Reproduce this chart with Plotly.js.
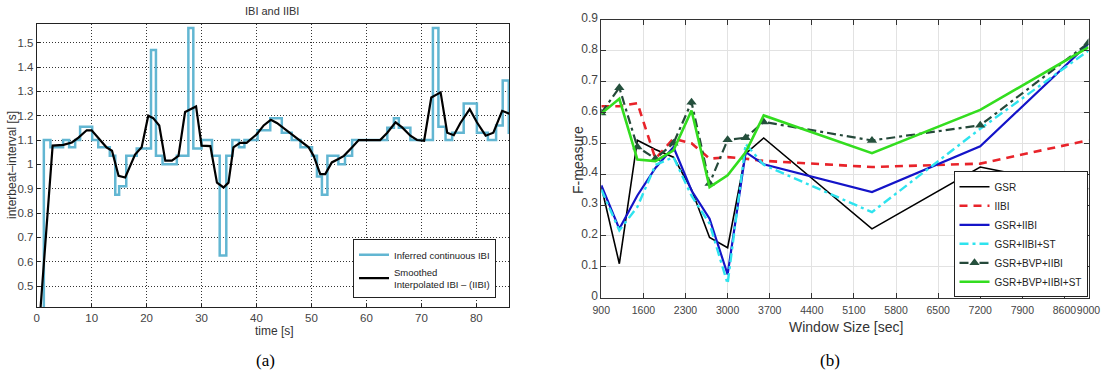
<!DOCTYPE html>
<html>
<head>
<meta charset="utf-8">
<script src="https://cdn.plot.ly/plotly-3.0.1.min.js"></script>
<style>html,body{margin:0;padding:0;background:#fff;}#chart{width:1104px;height:382px;}</style>
</head>
<body>
<div id="chart"></div>
<script>
// ---------- Panel (a): IBI and IIBI ----------
const ibiTime = [0, 1.3, 2.5, 4.8, 5.9, 7.0, 7.9, 10.1, 11.2, 13.3, 14.3, 15.0, 16.3, 18.2, 20.8, 21.7, 22.9, 25.5, 27.6, 28.5, 30.0, 31.9, 33.3, 34.5, 35.6, 36.8, 37.8, 40.2, 42.5, 44.6, 46.4, 48.0, 50.1, 51.0, 51.9, 52.9, 54.9, 56.1, 57.4, 63.8, 65.0, 65.9, 68.0, 72.1, 73.1, 74.4, 75.6, 77.7, 80.1, 82.1, 83.6, 84.8, 85.9, 86];
const ibiValue = [0.3, 1.10, 1.07, 1.10, 1.07, 1.10, 1.155, 1.10, 1.07, 1.035, 0.875, 0.91, 1.035, 1.065, 1.47, 1.035, 1.0, 1.035, 1.56, 1.065, 1.10, 1.035, 0.625, 1.035, 1.10, 1.07, 1.10, 1.14, 1.19, 1.13, 1.10, 1.07, 1.035, 0.95, 0.875, 1.035, 1.0, 1.035, 1.10, 1.15, 1.19, 1.15, 1.10, 1.56, 1.155, 1.10, 1.13, 1.25, 1.13, 1.10, 1.16, 1.345, 1.13, 1.13];

const iibiTime = [0.6, 2.9, 4.85, 6.4, 7.6, 9.1, 10.0, 11.2, 12.7, 13.7, 14.9, 16.1, 17.9, 19.1, 20.3, 21.2, 22.3, 23.4, 24.6, 25.8, 27.0, 29.0, 30.0, 31.6, 32.8, 34.0, 34.9, 35.8, 37.0, 38.2, 40.1, 41.3, 42.6, 43.7, 45.2, 46.8, 48.3, 49.5, 50.4, 51.6, 52.5, 53.7, 54.9, 55.9, 57.4, 58.6, 62.5, 63.8, 65.3, 66.5, 68.0, 69.2, 70.5, 71.8, 73.5, 74.7, 75.9, 77.1, 78.8, 80.1, 81.7, 83.1, 84.7, 86.1];
const iibiValue = [0.38, 1.077, 1.08, 1.09, 1.11, 1.14, 1.14, 1.11, 1.07, 1.056, 0.953, 0.946, 1.04, 1.07, 1.20, 1.19, 1.16, 1.015, 1.015, 1.035, 1.215, 1.238, 1.077, 1.075, 0.925, 0.905, 0.925, 1.07, 1.088, 1.088, 1.125, 1.16, 1.183, 1.17, 1.145, 1.118, 1.09, 1.07, 1.035, 0.96, 0.96, 1.008, 1.022, 1.035, 1.07, 1.10, 1.10, 1.13, 1.173, 1.152, 1.118, 1.10, 1.097, 1.275, 1.296, 1.13, 1.12, 1.17, 1.227, 1.173, 1.118, 1.13, 1.22, 1.207];

const ibiTicksY = [0.5, 0.6, 0.7, 0.8, 0.9, 1, 1.1, 1.2, 1.3, 1.4, 1.5];
const timeTicks = [0, 10, 20, 30, 40, 50, 60, 70, 80];

// ---------- Panel (b): F-measure vs window size ----------
const windowSize = [900, 1200, 1500, 1800, 2100, 2400, 2700, 3000, 3300, 3600, 5400, 7200, 9000];
const fGSR        = [0.36, 0.11, 0.51, 0.48, 0.455, 0.35, 0.195, 0.162, 0.466, 0.517, 0.223, 0.423, 0.353];
const fIIBI       = [0.62, 0.62, 0.63, 0.45, 0.515, 0.50, 0.45, 0.455, 0.45, 0.443, 0.423, 0.434, 0.51];
const fGSR_IIBI   = [0.364, 0.223, 0.331, 0.42, 0.488, 0.347, 0.256, 0.075, 0.471, 0.432, 0.342, 0.49, 0.822];
const fGSR_IIBI_ST = [0.35, 0.218, 0.294, 0.43, 0.455, 0.33, 0.24, 0.045, 0.498, 0.43, 0.277, 0.547, 0.80];
const fGSR_BVP_IIBI = [0.598, 0.68, 0.488, 0.45, 0.50, 0.633, 0.37, 0.511, 0.518, 0.569, 0.509, 0.558, 0.825];
const fGSR_BVP_IIBI_ST = [0.596, 0.644, 0.447, 0.442, 0.477, 0.606, 0.358, 0.396, 0.471, 0.59, 0.468, 0.608, 0.811];
const windowTicks = [900, 1600, 2300, 3000, 3700, 4400, 5100, 5800, 6500, 7200, 7900, 8600, 9000];
const fTicks = [0, 0.1, 0.2, 0.3, 0.4, 0.5, 0.6, 0.7, 0.8, 0.9];

const W = 1104, H = 382;
const px = v => v / W, py = v => 1 - v / H;
const narrow = '"Liberation Sans Narrow", "Arial Narrow", "Liberation Sans", Arial, sans-serif';
const sans = '"Liberation Sans", Arial, Helvetica, sans-serif';

const traces = [
  {x: ibiTime, y: ibiValue, xaxis: 'x', yaxis: 'y', mode: 'lines', line: {shape: 'hv', color: '#62b6d2', width: 2.5},
   name: 'Inferred continuous IBI', legend: 'legend'},
  {x: iibiTime, y: iibiValue, xaxis: 'x', yaxis: 'y', mode: 'lines', line: {color: '#000', width: 2.2},
   name: 'Smoothed<br>Interpolated IBI \u2013 (IIBI)', legend: 'legend'},

  {x: windowSize, y: fGSR, xaxis: 'x2', yaxis: 'y2', mode: 'lines', line: {color: '#000', width: 1.6}, name: 'GSR', legend: 'legend2'},
  {x: windowSize, y: fIIBI, xaxis: 'x2', yaxis: 'y2', mode: 'lines', line: {color: '#e8232a', width: 2.6, dash: '8px,6px'}, name: 'IIBI', legend: 'legend2'},
  {x: windowSize, y: fGSR_IIBI, xaxis: 'x2', yaxis: 'y2', mode: 'lines', line: {color: '#1414c8', width: 2.2}, name: 'GSR+IIBI', legend: 'legend2'},
  {x: windowSize, y: fGSR_IIBI_ST, xaxis: 'x2', yaxis: 'y2', mode: 'lines', line: {color: '#2ee3ee', width: 2.4, dash: '9px,4px,3px,4px'}, name: 'GSR+IIBI+ST', legend: 'legend2'},
  {x: windowSize, y: fGSR_BVP_IIBI, xaxis: 'x2', yaxis: 'y2', mode: 'lines+markers', line: {color: '#25493a', width: 2.2, dash: '9px,4px,3px,4px'},
   marker: {symbol: 'triangle-up', size: 9, color: '#25503d'}, name: 'GSR+BVP+IIBI', legend: 'legend2'},
  {x: windowSize, y: fGSR_BVP_IIBI_ST, xaxis: 'x2', yaxis: 'y2', mode: 'lines', line: {color: '#33dd1f', width: 2.6}, name: 'GSR+BVP+IIBI+ST', legend: 'legend2'}
];

const ann = (text, x, y, font, extra) => Object.assign({text, x: px(x), y: py(y), xref: 'paper', yref: 'paper', showarrow: false,
  xanchor: 'center', yanchor: 'middle', font}, extra || {});

const layout = {
  width: W, height: H,
  margin: {l: 0, r: 0, t: 0, b: 0},
  paper_bgcolor: '#fff', plot_bgcolor: '#fff',
  font: {family: narrow, size: 11, color: '#333'},
  xaxis: {domain: [px(36.7), px(509.3)], range: [0, 86], tickvals: timeTicks, tickangle: 0, showgrid: true, gridcolor: '#333', griddash: '1px,2px', gridwidth: 1,
          zeroline: false, showline: true, linecolor: '#222', linewidth: 1, mirror: true, ticks: 'inside', ticklen: 3, tickcolor: '#222',
          tickfont: {family: narrow, size: 11.5, color: '#444'}, anchor: 'y'},
  yaxis: {domain: [py(307.3), py(24.3)], range: [0.4125, 1.5757], tickvals: ibiTicksY, showgrid: true, gridcolor: '#333', griddash: '1px,2px', gridwidth: 1,
          zeroline: false, showline: true, linecolor: '#222', linewidth: 1, mirror: true, ticks: 'inside', ticklen: 3, tickcolor: '#222',
          tickfont: {family: narrow, size: 11.5, color: '#444'}, anchor: 'x'},
  xaxis2: {domain: [px(601.3), px(1088.5)], range: [900, 9000], tickvals: windowTicks, tickangle: 0, showgrid: true, gridcolor: '#e2e2e2', gridwidth: 1,
           zeroline: false, showline: true, linecolor: '#333', linewidth: 1, mirror: 'ticks', ticks: 'inside', ticklen: 5, tickcolor: '#333',
           ticklabelstandoff: 3, tickfont: {family: narrow, size: 10.5, color: '#444'}, anchor: 'y2'},
  yaxis2: {domain: [py(297.7), py(19.7)], range: [0, 0.9], tickvals: fTicks, showgrid: true, gridcolor: '#e2e2e2', gridwidth: 1,
           zeroline: false, showline: true, linecolor: '#333', linewidth: 1, mirror: 'ticks', ticks: 'inside', ticklen: 5, tickcolor: '#333',
           ticklabelshift: -2, tickfont: {family: narrow, size: 12, color: '#444'}, anchor: 'x2'},
  legend: {x: px(496), y: py(239.3), xanchor: 'right', yanchor: 'top', bgcolor: '#fff', bordercolor: '#222', borderwidth: 1,
           font: {family: narrow, size: 9.5, color: '#222'}, tracegroupgap: 0, itemwidth: 30},
  legend2: {x: px(1087.5), y: py(297.3), xanchor: 'right', yanchor: 'bottom', bgcolor: '#fff', bordercolor: '#222', borderwidth: 1,
            font: {family: narrow, size: 10, color: '#222'}, tracegroupgap: 0, itemwidth: 30},
  showlegend: true,
  annotations: [
    ann('IBI and IIBI', 272, 11, {family: narrow, size: 11, color: '#333'}),
    ann('time [s]', 274, 331, {family: narrow, size: 12, color: '#333'}),
    ann('interbeat\u2013interval [s]', 12, 165, {family: narrow, size: 12, color: '#333'}, {textangle: -90}),
    ann('F-measure', 578, 160, {family: sans, size: 14, color: '#333'}, {textangle: -90}),
    ann('Window Size [sec]', 846, 327, {family: sans, size: 14, color: '#333'}),
    ann('(a)', 265, 360, {family: '"Liberation Serif", "Times New Roman", serif', size: 17, color: '#000'}),
    ann('(b)', 830, 360, {family: '"Liberation Serif", "Times New Roman", serif', size: 17, color: '#000'})
  ]
};

Plotly.newPlot('chart', traces, layout, {displayModeBar: false, staticPlot: true});
</script>
</body>
</html>
